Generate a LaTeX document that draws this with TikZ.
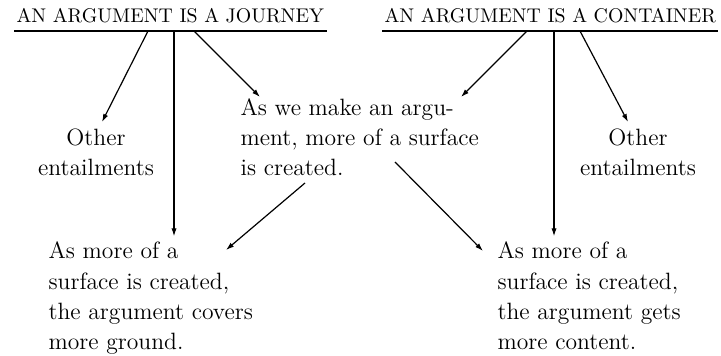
\documentclass[tikz,border=0pt]{standalone}
\usepackage{fontspec}
\usepackage{tikz}
\usetikzlibrary{arrows.meta}

\begin{document}
\begin{tikzpicture}[x=0.5pt, y=-0.5pt, line width=0.6pt, >={Latex[length=4pt, width=2.6pt]},
    txt/.style={inner sep=0pt, align=left, font={\fontsize{11.8}{15.2}\selectfont}},
    head/.style={inner xsep=1pt, inner ysep=3.5pt, font={\fontsize{9.9}{11}\selectfont\addfontfeatures{LetterSpace=11}}}]
    \useasboundingbox (0,0) rectangle (721,356);

    \node[head, anchor=base west] (journey) at (14,23) {AN ARGUMENT IS A JOURNEY};
    \node[head, anchor=base west] (container) at (382,23) {AN ARGUMENT IS A CONTAINER};
    \draw (journey.south west) -- (journey.south east);
    \draw (container.south west) -- (container.south east);

    \node[txt, anchor=base west] (surface) at (240,176) {As we make an argu-\\ment, more of a surface\\is created.};
    \node[txt, align=center, anchor=base] (otherj) at (96,176) {Other\\entailments};
    \node[txt, align=center, anchor=base] (otherc) at (638,176) {Other\\entailments};
    \node[txt, anchor=base west] (ground) at (48,350) {As more of a\\surface is created,\\the argument covers\\more ground.};
    \node[txt, anchor=base west] (content) at (497,350) {As more of a\\surface is created,\\the argument gets\\more content.};

    \coordinate (jmid) at ([shift={(160,0)}]journey.south west);
    \coordinate (cmid) at ([shift={(172,0)}]container.south west);

    \draw[->] ([shift={(134,0)}]journey.south west) -- ([shift={(6,-54)}]otherj.base);
    \draw[->] (jmid) -- ([yshift=2.5pt]jmid |- ground.north);
    \draw[->] ([shift={(180,0)}]journey.south west) -- ([shift={(20,-79)}]surface.base west);
    \draw[->] ([shift={(145,0)}]container.south west) -- ([shift={(221,-79)}]surface.base west);
    \draw[->] (cmid) -- ([yshift=2.5pt]cmid |- content.north);
    \draw[->] ([shift={(198,0)}]container.south west) -- ([shift={(-10,-54)}]otherc.base);
    \draw[->] ([shift={(155,-14)}]surface.base west) -- ([shift={(-14,-99)}]content.base west);
    \draw[->] ([shift={(65,7)}]surface.base west) -- ([shift={(178,-100)}]ground.base west);
\end{tikzpicture}
\end{document}
